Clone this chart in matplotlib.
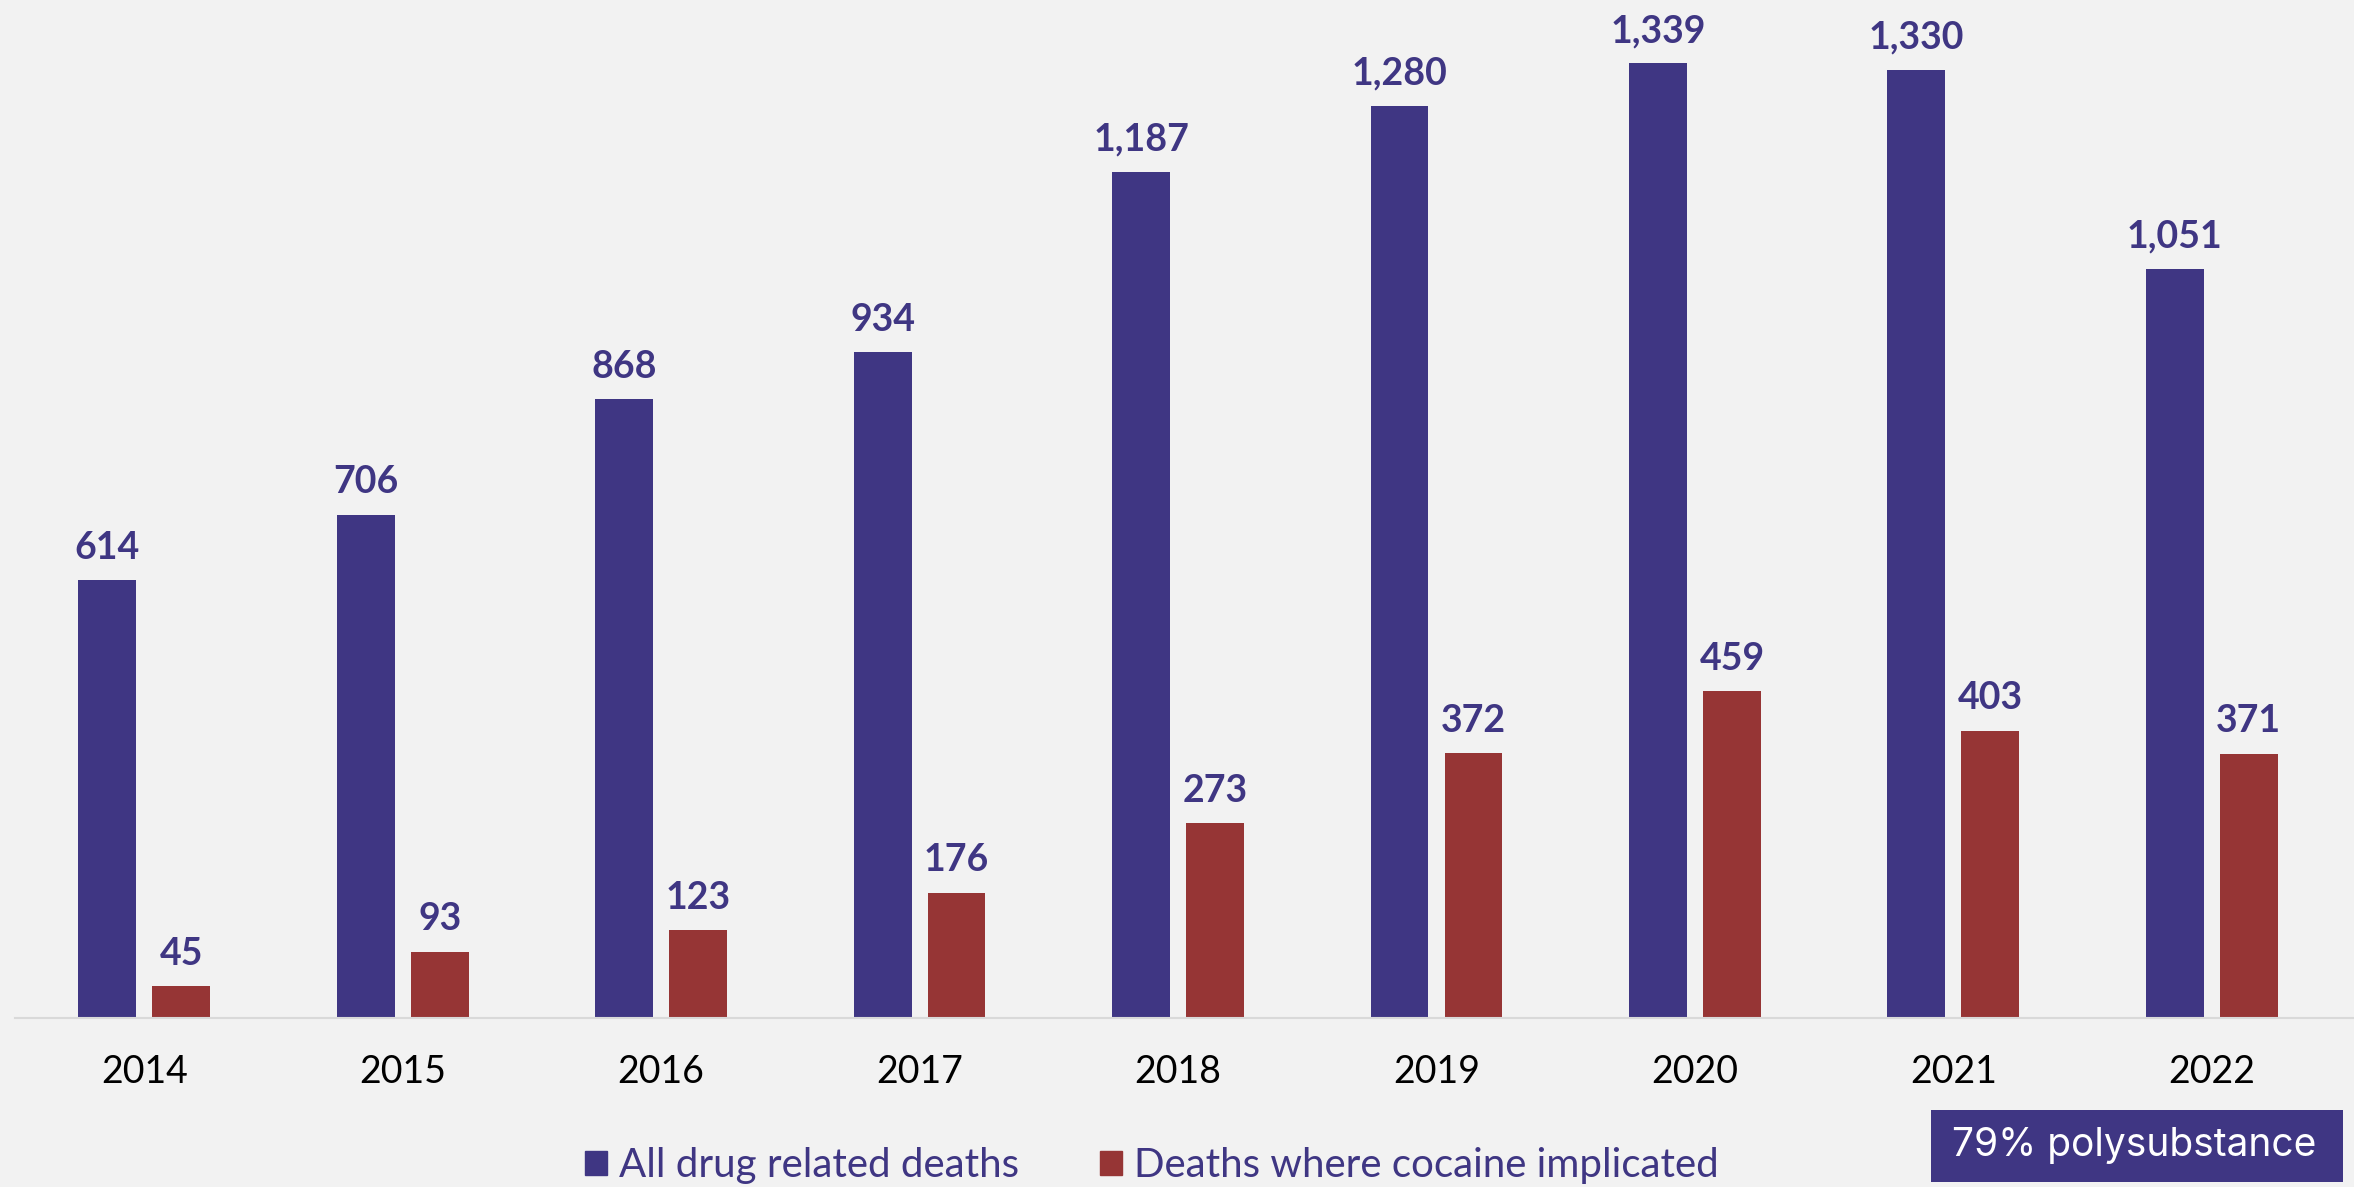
import matplotlib
matplotlib.use("Agg")
import matplotlib.pyplot as plt
from matplotlib.patches import Rectangle, Patch
import numpy as np

years = ["2014", "2015", "2016", "2017", "2018", "2019", "2020", "2021", "2022"]
all_deaths = [614, 706, 868, 934, 1187, 1280, 1339, 1330, 1051]
cocaine_deaths = [45, 93, 123, 176, 273, 372, 459, 403, 371]
series_names = ["All drug related deaths", "Deaths where cocaine implicated"]
note_text = "79% polysubstance"

PURPLE = "#3F3683"
RED = "#963535"
BG = "#F2F2F2"

W, H = 2354, 1187
fig = plt.figure(figsize=(W / 100, H / 100), dpi=100, facecolor=BG)
ax = fig.add_axes([15 / W, 1 - 1018 / H, 1 - 15 / W, 1018 / H])
ax.set_facecolor(BG)

x = np.arange(len(years))
bw = 0.224
off = 0.143
b1 = ax.bar(x - off, all_deaths, bw, color=PURPLE, label=series_names[0])
b2 = ax.bar(x + off, cocaine_deaths, bw, color=RED, label=series_names[1])

for bars, vals in ((b1, all_deaths), (b2, cocaine_deaths)):
    for rect, v in zip(bars, vals):
        ax.annotate(f"{v:,}", (rect.get_x() + rect.get_width() / 2, v),
                    xytext=(0, 11), textcoords="offset points",
                    ha="center", va="bottom", fontsize=27, fontweight="bold",
                    color=PURPLE, family="Lato")

ax.set_xlim(-0.5, 8.55)
ax.set_ylim(0, 1428)
ax.set_xticks(x)
ax.set_xticklabels(years, fontsize=27, family="Lato", color="black")
ax.tick_params(axis="x", length=0, pad=26)
ax.set_yticks([])
for s in ["top", "left", "right"]:
    ax.spines[s].set_visible(False)
ax.spines["bottom"].set_color("#D9D9D9")
ax.spines["bottom"].set_linewidth(1.5)

handles = [Patch(color=PURPLE), Patch(color=RED)]
fig.legend(handles, series_names, loc="center", bbox_to_anchor=(1152 / W, 1 - 1166 / H),
           ncol=2, frameon=False, handlelength=0.55, handleheight=0.55,
           handletextpad=0.3, columnspacing=2.0,
           prop={"family": "Lato", "size": 29}, labelcolor=PURPLE)

fig.patches.append(Rectangle((1931 / W, 1 - 1182 / H), (2343 - 1931) / W, (1182 - 1110) / H,
                             transform=fig.transFigure, facecolor=PURPLE, edgecolor="none"))
fig.text(2134 / W, 1 - 1146 / H, note_text, ha="center", va="center", color="white",
         fontsize=28, family="Inter")

fig.savefig("out.png", dpi=100, facecolor=BG)
